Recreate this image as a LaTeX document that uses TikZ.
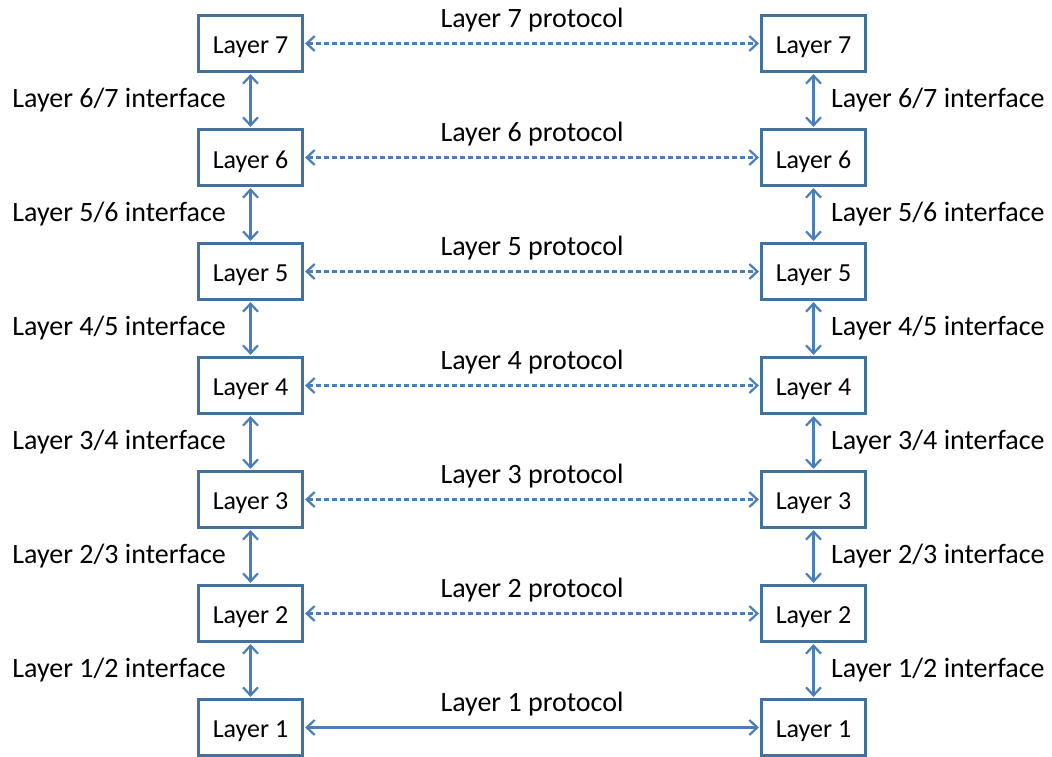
\documentclass[tikz,border=0pt]{standalone}
\usepackage{fontspec}
\setmainfont{Carlito}
\usetikzlibrary{arrows.meta}
\definecolor{boxline}{HTML}{41719C}
\definecolor{arrowline}{HTML}{4A7EBB}
\newcommand{\boxtext}[1]{\raisebox{-4pt}[\height][\depth]{#1}}
\begin{document}
\begin{tikzpicture}[x=1pt,y=-1pt,
  layerbox/.style={draw=boxline, line width=3.2pt, fill=white, minimum width=104pt, minimum height=56pt, inner sep=0pt, font=\fontsize{26}{30}\selectfont},
  lbl/.style={font=\fontsize{28}{32}\selectfont, inner sep=0pt},
  link/.style={draw=arrowline, line width=2.2pt, {Straight Barb[length=8pt,width=15pt,line width=2.2pt]}-{Straight Barb[length=8pt,width=15pt,line width=2.2pt]}, shorten <=1pt, shorten >=1pt},
  peer/.style={link, dash pattern=on 5pt off 3pt}]
\useasboundingbox (0,0) rectangle (1052,756);
\foreach \i in {1,...,7} {
  \pgfmathsetmacro{\yy}{43.5+(7-\i)*114}
  \node[layerbox] (L\i) at (250.5,\yy) {\boxtext{Layer \i}};
  \node[layerbox] (R\i) at (813.5,\yy) {\boxtext{Layer \i}};
  \node[lbl, anchor=base] (P\i) at (532,\yy-16) {Layer \i\ protocol};
}
\foreach \i in {2,...,7} {
  \draw[peer] (L\i) -- (R\i);
}
\draw[link] (L1) -- (R1);
\foreach \i [evaluate=\i as \j using int(\i+1)] in {1,...,6} {
  \draw[link] (L\j.south) -- (L\i.north);
  \draw[link] (R\j.south) -- (R\i.north);
  \pgfmathsetmacro{\my}{43.5+(6-\i)*114+57}
  \node[lbl, anchor=east] (IL\i) at (226,\my) {Layer \i/\j\ interface};
  \node[lbl, anchor=west] (IR\i) at (831,\my) {Layer \i/\j\ interface};
}
\end{tikzpicture}
\end{document}
